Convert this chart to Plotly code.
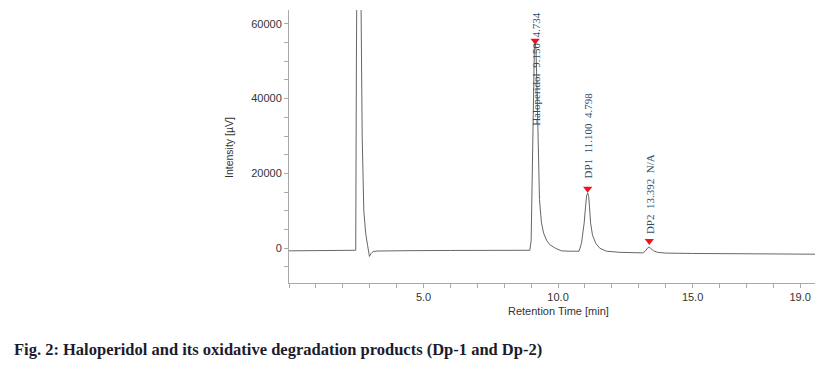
import plotly.graph_objects as go

# Chromatogram trace (retention time in min, intensity in µV)
time_min = [0.0, 1.0, 2.0, 2.45, 2.48, 2.505, 2.58, 2.66, 2.72, 2.78, 2.85, 2.92, 2.99, 3.05, 3.13, 3.3, 3.6,
            4.5, 6.0, 7.5, 8.5, 8.95, 9.00, 9.04, 9.08, 9.12, 9.15, 9.18, 9.22, 9.27, 9.31, 9.38, 9.46,
            9.58, 9.70, 9.90, 10.13, 10.40, 10.60, 10.78, 10.87, 10.93, 10.97, 11.02, 11.06, 11.10,
            11.14, 11.17, 11.21, 11.28, 11.40, 11.55, 11.80, 12.30, 12.80, 13.15, 13.25, 13.33, 13.39,
            13.45, 13.55, 13.70, 14.00, 15.00, 16.50, 18.00, 19.55]
intensity = [-700, -700, -650, -600, -550, 50000, 140000, 80000, 30000, 10000, 4000, 800, -2200, -1400, -900, -750, -700,
             -650, -600, -600, -600, -550, 2000, 20000, 45000, 54000, 55300, 53000, 42000, 29000, 13000, 7000, 4100,
             2000, 900, 0, -700, -800, -800, -800, 1300, 4000, 6700, 11000, 14000, 14800,
             13800, 11000, 6700, 3500, 1340, 0, -800, -1100, -1200, -1250, -700, 100, 300,
             0, -700, -1100, -1300, -1400, -1450, -1500, -1600]

# Peak marks
peak_times = [9.15, 11.10, 13.392]
peak_marker_heights = [55450, 15900, 1950]
peak_labels = ["Haloperidol  9.150  4.734", "DP1  11.100  4.798", "DP2  13.392  N/A"]
label_bottoms = [32500, 18300, 3600]

x_tick_vals = [5, 10, 15, 19]
x_tick_text = ["5.0", "10.0", "15.0", "19.0"]
y_tick_vals = [0, 20000, 40000, 60000]
y_tick_text = ["0", "20000", "40000", "60000"]

x_title = "Retention Time [min]"
y_title = "Intensity [µV]"
caption = "Fig. 2: Haloperidol and its oxidative degradation products (Dp-1 and Dp-2)"

# Layout geometry (page offset of 8px from the html body margin is compensated)
OFF = 8
W, H = 825, 370
L, T = 289 - OFF, 10 - OFF
PW, PH = 526, 273
R = W - L - PW
B = H - T - PH


def px_to_paper_x(px):
    return (px - OFF - L) / PW


def px_to_paper_y(py):
    return (T + PH - (py - OFF)) / PH


fig = go.Figure()
fig.add_trace(go.Scatter(x=time_min, y=intensity, mode="lines",
                         line=dict(color="#666666", width=1), hoverinfo="skip", showlegend=False))
fig.add_trace(go.Scatter(x=peak_times, y=peak_marker_heights, mode="markers",
                         marker=dict(symbol="triangle-down", size=8, color="#e8141e", line=dict(width=0)),
                         showlegend=False, cliponaxis=False, hoverinfo="skip"))

for t, lab, yb in zip(peak_times, peak_labels, label_bottoms):
    fig.add_annotation(x=t, y=yb, xref="x", yref="y", text=lab, textangle=-90,
                       showarrow=False, xanchor="center", yanchor="bottom",
                       font=dict(family="Liberation Serif", size=11, color="#2d4a6a"),
                       borderpad=0)

fig.add_annotation(x=10.0, y=px_to_paper_y(303), xref="x", yref="paper", text=x_title, showarrow=False,
                   xanchor="center", yanchor="top",
                   font=dict(family="Liberation Sans", size=11, color="#333333"))

fig.add_annotation(x=px_to_paper_x(229), y=px_to_paper_y(148), xref="paper", yref="paper", text=y_title,
                   textangle=-90, showarrow=False, xanchor="center", yanchor="middle",
                   font=dict(family="Liberation Sans", size=10.5, color="#333333"))

fig.add_annotation(x=px_to_paper_x(12), y=px_to_paper_y(349), xref="paper", yref="paper",
                   text="<b>" + caption + "</b>", showarrow=False, xanchor="left", yanchor="middle",
                   font=dict(family="Liberation Serif", size=16.5, color="#1c1c2c"))

fig.update_layout(
    width=W, height=H,
    margin=dict(l=L, r=R, t=T, b=B, autoexpand=False),
    paper_bgcolor="white", plot_bgcolor="white",
    showlegend=False,
)

fig.update_xaxes(range=[0, 19.55], tickvals=x_tick_vals, ticktext=x_tick_text,
                 ticks="outside", ticklen=4, tickcolor="#aaaaaa", showline=True, linecolor="#aaaaaa",
                 linewidth=1, showgrid=False, zeroline=False, automargin=False,
                 tickfont=dict(family="Liberation Sans", size=11, color="#333333"),
                 minor=dict(tickmode="linear", tick0=0, dtick=1, ticks="outside", ticklen=4, tickcolor="#aaaaaa"))
fig.update_yaxes(range=[-9300, 63700], tickvals=y_tick_vals, ticktext=y_tick_text,
                 ticks="outside", ticklen=4, tickcolor="#aaaaaa", showline=True, linecolor="#aaaaaa",
                 linewidth=1, showgrid=False, zeroline=False, automargin=False,
                 tickfont=dict(family="Liberation Sans", size=11, color="#333333"),
                 minor=dict(tickmode="linear", tick0=0, dtick=5000, ticks="outside", ticklen=4, tickcolor="#aaaaaa"))

fig.write_html("out.html")
